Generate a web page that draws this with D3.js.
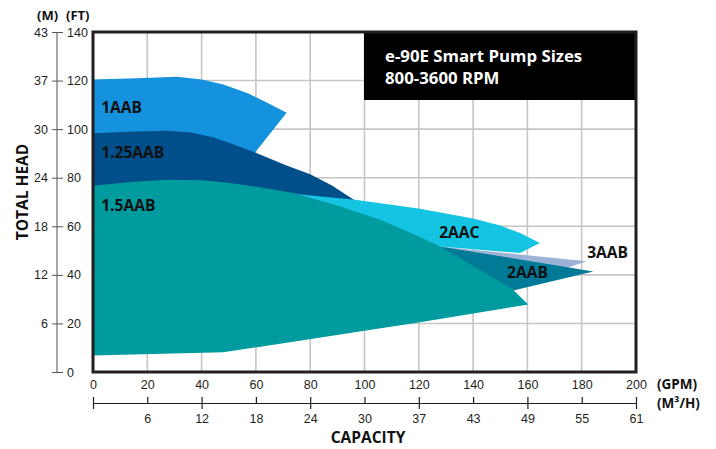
<!DOCTYPE html>
<html>
<head>
<meta charset="utf-8">
<script src="https://cdn.jsdelivr.net/npm/d3@7"></script>
<style>
  body { margin: 0; background: #fff; }
  svg { font-family: Lato, "Open Sans", sans-serif; }
  .tick text { fill: #231f20; font-size: 12.5px; }
  .bold { font-family: "Open Sans", sans-serif; font-weight: 700; fill: #111; }
</style>
</head>
<body>
<svg class="pump-chart" width="716" height="449"></svg>
<script>
// head axis (feet) with metre labels
const headTicks = [0, 20, 40, 60, 80, 100, 120, 140];
const metreLabels = ["", "6", "12", "18", "24", "30", "37", "43"];
// capacity axis (gpm) with m3/h labels
const flowTicks = [0, 20, 40, 60, 80, 100, 120, 140, 160, 180, 200];
const m3hLabels = ["", "6", "12", "18", "24", "30", "37", "43", "49", "55", "61"];

// pump envelopes, [gpm, ft]
const pump1AAB = [[0, 84], [0, 120.4], [16, 121], [31, 121.6], [40, 120.4], [48, 118.4], [57, 114.8], [64, 111], [71.3, 106.8], [59.7, 90.4], [54, 84]];
const pump125AAB = [[0, 68], [0, 98.3], [15, 99], [27.6, 99.3], [36, 98.6], [44.2, 96.7], [52, 93.6], [59.7, 90.4], [71.3, 85], [80, 81.4], [88, 76.8], [96.5, 70.6], [80, 65]];
const pump3AAB = [[127.8, 51.7], [181.8, 45.6], [174.5, 42.8], [150, 45]];
const pump2AAB = [[127.8, 51.7], [184.3, 41.4], [153.6, 33.2], [130, 40], [115, 48]];
const pump2AAC = [[73, 73.5], [85, 72.2], [96.5, 70.9], [110, 68.9], [120.4, 67.2], [130, 65.3], [140, 63.2], [150, 60.3], [157.3, 57.2], [164.6, 53.1], [157.3, 49], [127.8, 51.7], [110, 55], [80, 60]];
const pump15AAB = [[0, 6.8], [0, 76.7], [15, 78.3], [27.6, 79.2], [40, 79], [50.5, 77.8], [62, 76], [73.8, 73.7], [90, 68.6], [105.7, 62.7], [117, 57.3], [127.8, 51.7], [142.5, 42.1], [154.7, 33.9], [160.3, 27.8], [120.4, 20.5], [48, 8.1], [0, 6.8]];

const pumps = [
  { name: "1AAB", pts: pump1AAB, color: "#1592de", label: [3, 106.5] },
  { name: "1.25AAB", pts: pump125AAB, color: "#004e8a", label: [3, 88] },
  { name: "3AAB", pts: pump3AAB, color: "#9db3d5", label: [182, 46.8] },
  { name: "2AAB", pts: pump2AAB, color: "#007a97", label: [152.5, 38.8] },
  { name: "2AAC", pts: pump2AAC, color: "#15c3e3", label: [127.5, 55.1] },
  { name: "1.5AAB", pts: pump15AAB, color: "#009b9f", label: [3, 66.4] },
];

const svg = d3.select(".pump-chart");
const margin = { top: 32, right: 80, bottom: 77, left: 93 };
const width = +svg.attr("width");
const height = +svg.attr("height");

const x = d3.scaleLinear().domain([0, 200]).range([margin.left, width - margin.right]);
const y = d3.scaleLinear().domain([0, 140]).range([height - margin.bottom, margin.top]);

// grid
svg.append("g")
  .selectAll("line")
  .data(flowTicks.slice(1, -1))
  .join("line")
  .attr("x1", (d) => x(d)).attr("x2", (d) => x(d))
  .attr("y1", y(0)).attr("y2", y(140))
  .attr("stroke", "#c6c6c8").attr("stroke-width", 1.6);

svg.append("g")
  .selectAll("line")
  .data(headTicks.slice(1, -1))
  .join("line")
  .attr("x1", x(0)).attr("x2", x(200))
  .attr("y1", (d) => y(d)).attr("y2", (d) => y(d))
  .attr("stroke", "#c6c6c8").attr("stroke-width", 1.6);

// pump areas
const outline = d3.line().x((d) => x(d[0])).y((d) => y(d[1]));

svg.append("g")
  .selectAll("path")
  .data(pumps)
  .join("path")
  .attr("d", (d) => outline(d.pts) + "Z")
  .attr("fill", (d) => d.color);

svg.append("g")
  .selectAll("text")
  .data(pumps)
  .join("text")
  .attr("class", "bold")
  .attr("x", (d) => x(d.label[0]))
  .attr("y", (d) => y(d.label[1]))
  .attr("font-size", "15.6px")
  .text((d) => d.name);

// title box
svg.append("rect")
  .attr("x", x(100) - 0.5).attr("y", y(140))
  .attr("width", x(200) - x(100) + 0.5).attr("height", 68)
  .attr("fill", "#000");

svg.append("text")
  .attr("class", "bold")
  .attr("x", 385).attr("y", 62)
  .attr("font-size", "16.8px")
  .style("fill", "#fff")
  .text("e-90E Smart Pump Sizes");
svg.append("text")
  .attr("class", "bold")
  .attr("x", 385).attr("y", 84)
  .attr("font-size", "16.8px")
  .style("fill", "#fff")
  .text("800-3600 RPM");

// frame
svg.append("rect")
  .attr("x", x(0)).attr("y", y(140))
  .attr("width", x(200) - x(0)).attr("height", y(0) - y(140))
  .attr("fill", "none").attr("stroke", "#231f20").attr("stroke-width", 3);

// left axis: metres | feet
svg.append("line")
  .attr("x1", 57).attr("x2", 57)
  .attr("y1", y(140)).attr("y2", y(0))
  .attr("stroke", "#8a8a8a").attr("stroke-width", 1.5);

svg.append("g")
  .attr("transform", "translate(63,0)")
  .call(d3.axisLeft(y).tickValues(headTicks).tickSizeInner(11).tickSizeOuter(0).tickPadding(4)
    .tickFormat((d, i) => metreLabels[i]))
  .call((g) => g.select(".domain").remove())
  .call((g) => g.selectAll(".tick line").attr("stroke", "#555"));

svg.append("g")
  .attr("transform", "translate(63,0)")
  .call(d3.axisRight(y).tickValues(headTicks).tickSize(0).tickPadding(4))
  .call((g) => g.select(".domain").remove());

svg.append("text")
  .attr("class", "bold")
  .attr("x", 37).attr("y", 20)
  .attr("font-size", "13px")
  .text("(M)");
svg.append("text")
  .attr("class", "bold")
  .attr("x", 66).attr("y", 20)
  .attr("font-size", "13px")
  .text("(FT)");

svg.append("text")
  .attr("class", "bold")
  .attr("transform", "translate(28,192) rotate(-90)")
  .attr("text-anchor", "middle")
  .attr("font-size", "15.5px")
  .text("TOTAL HEAD");

// bottom axis: gpm
svg.append("g")
  .attr("transform", `translate(0,${y(0)})`)
  .call(d3.axisBottom(x).tickValues(flowTicks).tickSize(0).tickPadding(8))
  .call((g) => g.select(".domain").remove());

// second axis: m3/h
const m3h = svg.append("g")
  .attr("transform", "translate(0,403)")
  .call(d3.axisBottom(x).tickValues(flowTicks).tickSizeOuter(0)
    .tickFormat((d, i) => m3hLabels[i]));
m3h.select(".domain").attr("stroke", "#231f20").attr("stroke-width", 1.2);
m3h.selectAll(".tick line")
  .attr("stroke", "#231f20").attr("stroke-width", 1.2)
  .attr("y1", -6)
  .attr("y2", (d) => (d % 40 === 0 ? 6 : 0));
m3h.selectAll(".tick text").attr("y", 11);

svg.append("text")
  .attr("class", "bold")
  .attr("x", 657).attr("y", 389)
  .attr("font-size", "13.5px")
  .text("(GPM)");
svg.append("text")
  .attr("class", "bold")
  .attr("x", 657).attr("y", 408)
  .attr("font-size", "13.5px")
  .text("(M³/H)");

svg.append("text")
  .attr("class", "bold")
  .attr("x", 368).attr("y", 443)
  .attr("text-anchor", "middle")
  .attr("font-size", "15.5px")
  .text("CAPACITY");
</script>
</body>
</html>
